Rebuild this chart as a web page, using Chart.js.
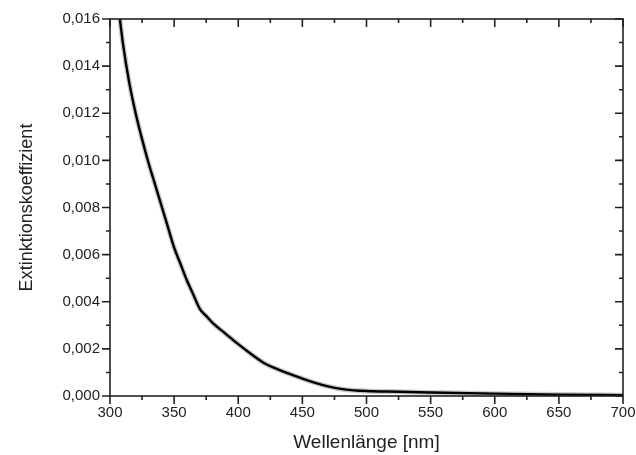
<!DOCTYPE html>
<html>
<head>
<meta charset="utf-8">
<script src="https://cdn.jsdelivr.net/npm/chart.js@4"></script>
<style>
html,body{margin:0;padding:0;background:#fff;}
#wrap{width:636px;height:455px;position:relative;}
</style>
</head>
<body>
<div id="wrap"><canvas id="c" width="636" height="455"></canvas></div>
<script>
// Wavelength in nm
const wavelengths = [306, 310, 315, 320, 325, 330, 335, 340, 345, 350, 355, 360, 365, 370, 375, 380, 390, 400, 410, 420, 430, 440, 450, 460, 470, 480, 490, 500, 525, 550, 600, 650, 700];
// Extinction coefficient
const extinction = [0.0168, 0.0150, 0.0133, 0.0120, 0.0109, 0.0099, 0.0090, 0.0081, 0.0072, 0.0063, 0.0056, 0.0049, 0.0043, 0.0037, 0.0034, 0.0031, 0.00265, 0.0022, 0.00178, 0.0014, 0.00115, 0.00094, 0.00074, 0.00056, 0.00041, 0.0003, 0.00024, 0.00021, 0.00018, 0.00015, 0.0001, 0.00006, 0.00003];
const xTicks = [300, 350, 400, 450, 500, 550, 600, 650, 700];
const yTicks = [0, 0.002, 0.004, 0.006, 0.008, 0.010, 0.012, 0.014, 0.016];
const xMinor = [325, 375, 425, 475, 525, 575, 625, 675];
const yMinor = [0.001, 0.003, 0.005, 0.007, 0.009, 0.011, 0.013, 0.015];

const points = wavelengths.map((w, i) => ({x: w, y: extinction[i]}));

const frameTicks = {
  id: 'frameTicks',
  afterDraw(chart) {
    const {ctx, chartArea: a, scales: {x, y}} = chart;
    ctx.save();
    ctx.strokeStyle = '#222';
    ctx.lineWidth = 1.6;
    ctx.strokeRect(a.left, a.top, a.right - a.left, a.bottom - a.top);
    const major = 8, minor = 4;
    ctx.beginPath();
    xTicks.forEach(v => {
      const px = x.getPixelForValue(v);
      ctx.moveTo(px, a.bottom); ctx.lineTo(px, a.bottom + major);
      ctx.moveTo(px, a.top); ctx.lineTo(px, a.top + major);
    });
    xMinor.forEach(v => {
      const px = x.getPixelForValue(v);
      ctx.moveTo(px, a.bottom); ctx.lineTo(px, a.bottom + minor);
      ctx.moveTo(px, a.top); ctx.lineTo(px, a.top + minor);
    });
    yTicks.forEach(v => {
      const py = y.getPixelForValue(v);
      ctx.moveTo(a.left, py); ctx.lineTo(a.left - major, py);
      ctx.moveTo(a.right, py); ctx.lineTo(a.right - major, py);
    });
    yMinor.forEach(v => {
      const py = y.getPixelForValue(v);
      ctx.moveTo(a.left, py); ctx.lineTo(a.left - minor, py);
      ctx.moveTo(a.right, py); ctx.lineTo(a.right - minor, py);
    });
    ctx.stroke();
    ctx.restore();
  }
};

new Chart(document.getElementById('c'), {
  type: 'line',
  data: {
    datasets: [
      {
        data: points,
        borderColor: '#000',
        borderWidth: 2.4,
        pointRadius: 0,
        cubicInterpolationMode: 'monotone',
        fill: false,
        order: 1
      },
      {
        data: points,
        borderColor: 'rgba(150,150,150,0.5)',
        borderWidth: 5,
        pointRadius: 0,
        cubicInterpolationMode: 'monotone',
        fill: false,
        order: 2
      }
    ]
  },
  options: {
    responsive: false,
    animation: false,
    devicePixelRatio: 1,
    layout: {padding: {left: 0, right: 13, top: 19, bottom: 0}},
    plugins: {legend: {display: false}, tooltip: {enabled: false}},
    scales: {
      x: {
        type: 'linear',
        min: 300, max: 700,
        afterFit(s) { s.height = 59; s.paddingLeft = 0; s.paddingRight = 0; },
        afterBuildTicks(s) { s.ticks = xTicks.map(v => ({value: v})); },
        grid: {display: false, drawTicks: false},
        border: {display: false},
        ticks: {
          padding: 8,
          color: '#222',
          font: {family: 'Liberation Sans, Arial, sans-serif', size: 15},
          callback: v => String(v),
          maxRotation: 0
        },
        title: {
          display: true,
          text: 'Wellenlänge [nm]',
          color: '#222',
          font: {family: 'Liberation Sans, Arial, sans-serif', size: 19},
          padding: {top: 0, bottom: 1}
        }
      },
      y: {
        min: 0, max: 0.016,
        afterFit(s) { s.width = 110; s.paddingTop = 0; s.paddingBottom = 0; },
        afterBuildTicks(s) { s.ticks = yTicks.map(v => ({value: v})); },
        grid: {display: false, drawTicks: false},
        border: {display: false},
        ticks: {
          padding: 10,
          color: '#222',
          font: {family: 'Liberation Sans, Arial, sans-serif', size: 15},
          callback: v => v.toFixed(3).replace('.', ',')
        },
        title: {
          display: true,
          text: 'Extinktionskoeffizient',
          color: '#222',
          font: {family: 'Liberation Sans, Arial, sans-serif', size: 18},
          padding: {top: 16, bottom: 0}
        }
      }
    }
  },
  plugins: [frameTicks]
});
</script>
</body>
</html>
